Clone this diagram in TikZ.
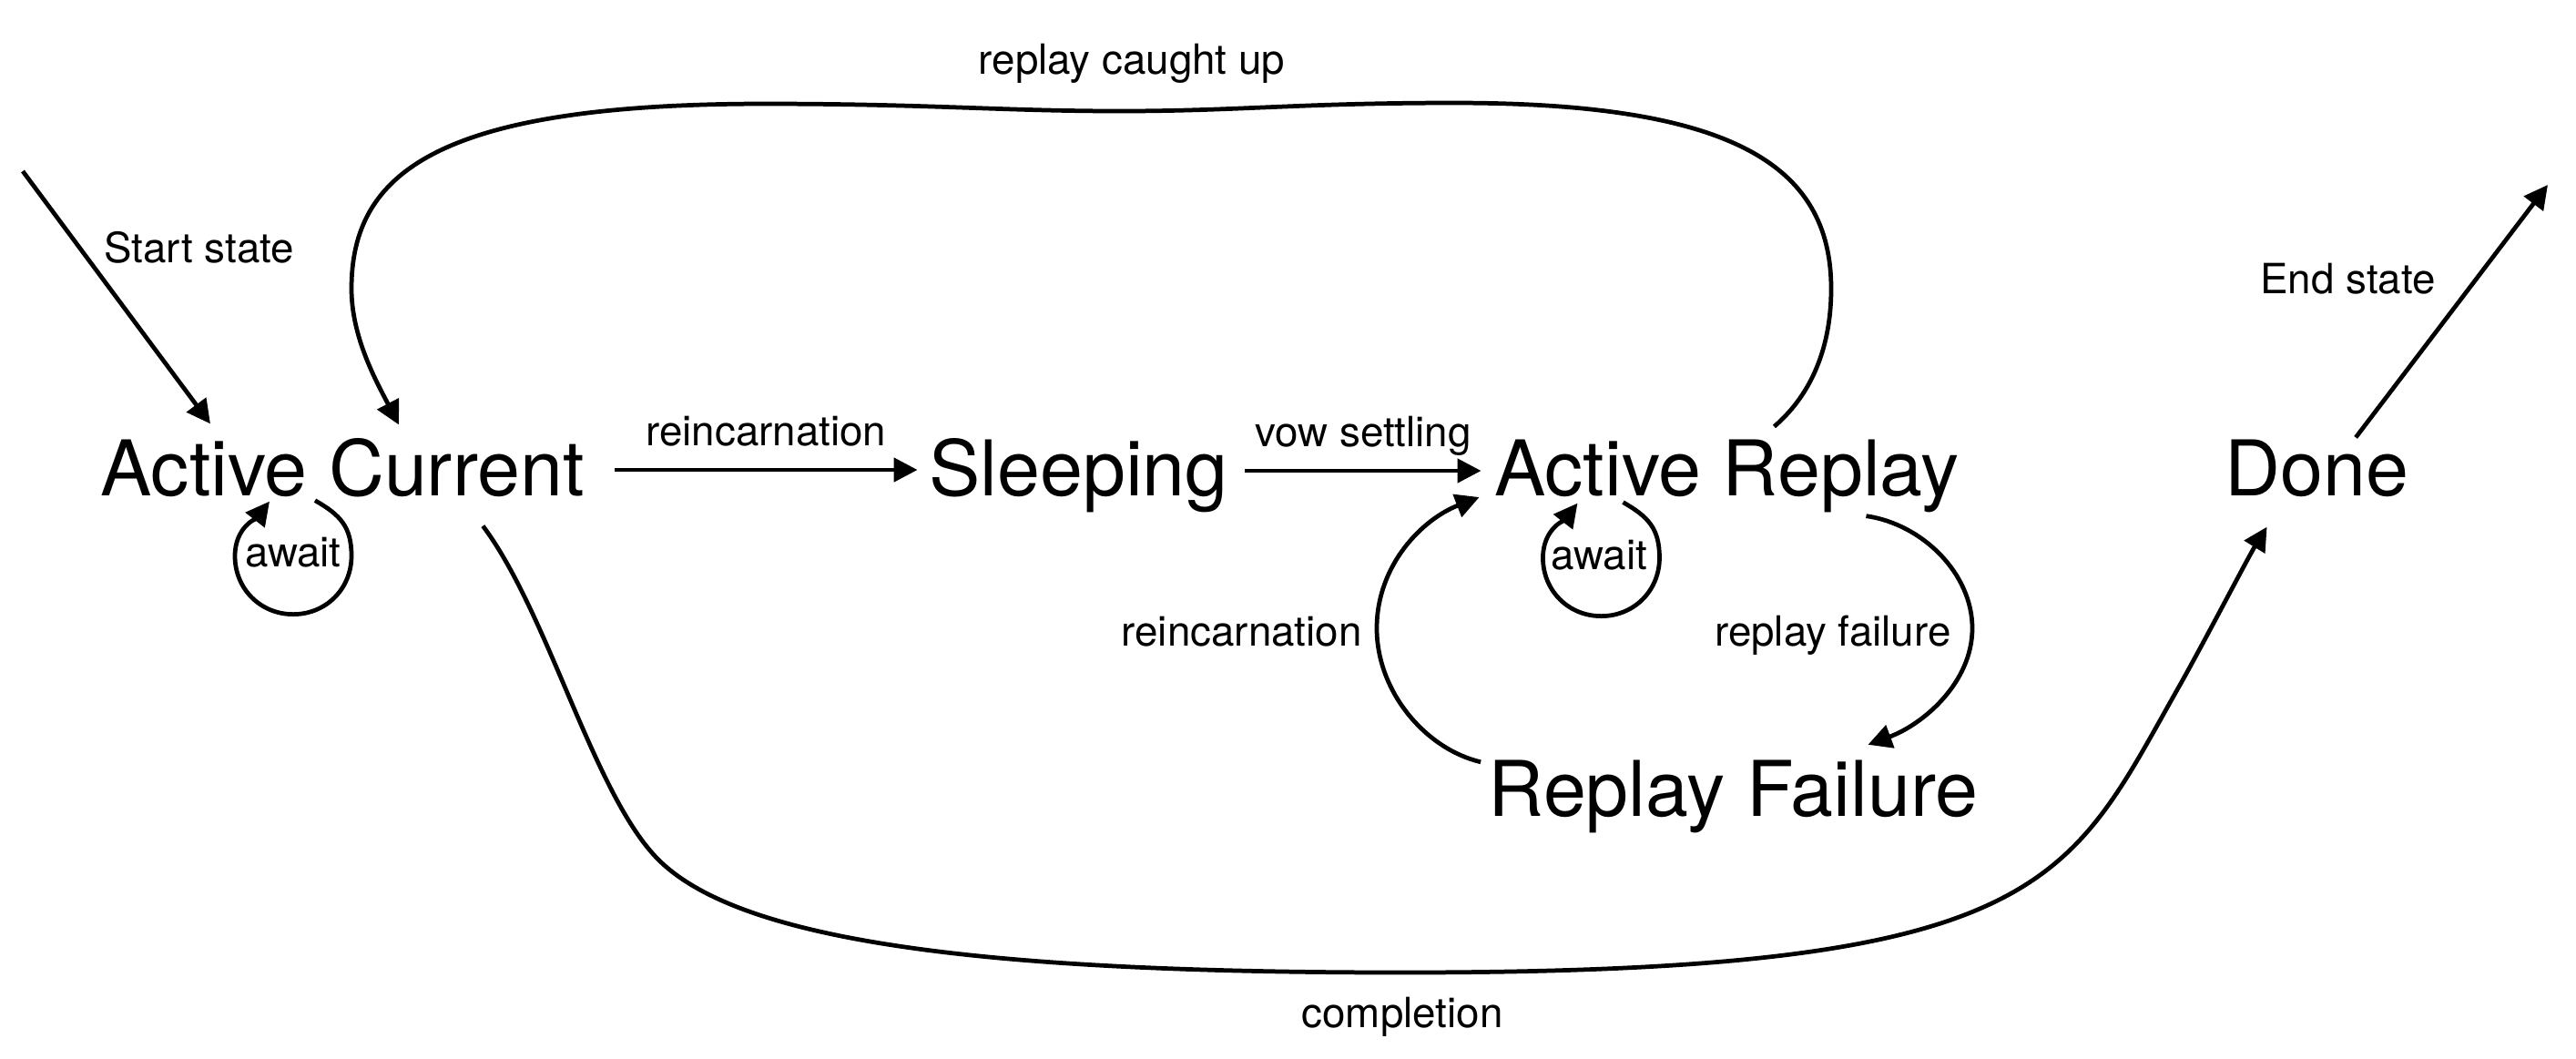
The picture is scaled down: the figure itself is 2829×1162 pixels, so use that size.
\documentclass[tikz,border=0pt]{standalone}
\usepackage{fontspec}
\setmainfont{TeX Gyre Heros}
\usepackage{tikz}
\usetikzlibrary{arrows.meta,positioning}

\begin{document}
\begin{tikzpicture}[x=0.01cm, y=-0.01cm,
    state/.style={font=\fontsize{24}{28}\selectfont, inner sep=0pt, text height=17.5pt, text depth=5.2pt},
    lbl/.style={font=\fontsize{13}{15}\selectfont, inner sep=0pt, text height=9.5pt, text depth=2.8pt},
    arrow/.style={-{Triangle[length=7.4pt,width=7.4pt]}, line width=1.35pt}]

\useasboundingbox (0,0) rectangle (2829,1162);

\node[state] (ac) at (376,523) {Active Current};
\node[state, right=3.77cm of ac] (sl) {Sleeping};
\node[state, right=2.91cm of sl] (ar) {Active Replay};
\node[state, right=2.9cm of ar] (dn) {Done};
\node[state, below=2.7cm of ar, xshift=0.07cm] (rf) {Replay Failure};

\coordinate (init) at (25,188);
\coordinate (final) at (2798,203);

% start and end
\draw[arrow] (init) -- ([shift={(-145,-17)}]ac.north) node[lbl, pos=0.32, right=6pt] (lstart) {Start state};
\draw[arrow] ([shift={(43,-2)}]dn.north) -- (final) node[lbl, pos=0.61, left=11pt] (lend) {End state};

% straight transitions
\draw[arrow] ([shift={(33,-7)}]ac.east) -- ([shift={(-12,-7)}]sl.west) node[lbl, midway, above=4pt] (l1) {reincarnation};
\draw[arrow] ([shift={(18,-6)}]sl.east) -- ([shift={(-14,-6)}]ar.west) node[lbl, midway, above=4pt] (l2) {vow settling};

% await loops
\draw[arrow] ([shift={(-30,-14)}]ac.south) .. controls +(28,16) and +(0,-32) .. ++(40,61)
    .. controls +(0,36) and +(36,0) .. ++(-64,64) .. controls +(-36,0) and +(0,36) .. ++(-64,-64)
    .. controls +(0,-32) and +(-14,18) .. ([shift={(-80,-13)}]ac.south);
\node[lbl] (acw) at ([shift={(-54,47)}]ac.south) {await};
\draw[arrow] ([shift={(-114,-12)}]ar.south) .. controls +(28,16) and +(0,-32) .. ++(40,61)
    .. controls +(0,36) and +(36,0) .. ++(-64,64) .. controls +(-36,0) and +(0,36) .. ++(-64,-64)
    .. controls +(0,-32) and +(-14,18) .. ([shift={(-164,-11)}]ar.south);
\node[lbl] (arw) at ([shift={(-140,50)}]ar.south) {await};

% replay failure cycle
\draw[arrow] ([shift={(153,3)}]ar.south) .. controls +(62,9) and +(0,-60) .. (2166,690)
    node[lbl, left=6pt, yshift=-2.2pt] (l5) {replay failure}
    .. controls +(0,60) and +(60,-22) .. ([shift={(148,-16)}]rf.north);
\draw[arrow] ([shift={(-8,3)}]rf.north west) .. controls +(-60,-14) and +(0,70) .. (1512,690)
    node[lbl, left=4pt, yshift=-2.2pt] (l4) {reincarnation}
    .. controls +(0,-70) and +(-62,24) .. ([shift={(-16,23)}]ar.west);

% long arcs
\draw[arrow] ([shift={(52,-14)}]ar.north) .. controls +(35,-30) and +(0,73) .. (2011,317)
    .. controls +(0,-137) and +(303,0) .. (1597,113) .. controls +(-170,0) and +(130,0) .. (1230,122)
    node[lbl, above=8pt, xshift=0.13cm] (l3) {replay caught up}
    .. controls +(-130,0) and +(180,0) .. (840,114) .. controls +(-360,0) and +(0,-127) .. (386,317)
    .. controls +(0,53) and +(-25,-48) .. ([shift={(62,-16)}]ac.north);
\draw[arrow] ([shift={(-112,14)}]ac.south east) .. controls +(72,96) and +(-71,-71) .. (723,944)
    .. controls +(92,92) and +(-450,0) .. (1540,1068)
    node[lbl, below=7pt] (l6) {completion}
    .. controls +(710,0) and +(-123,217) .. (2393,754) .. controls +(25,-44) and +(-21,34) .. ([shift={(47,15)}]dn.south west);

\end{tikzpicture}
\end{document}
